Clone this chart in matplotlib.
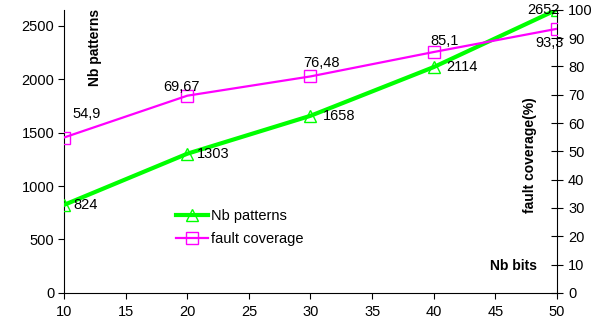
import numpy as np
import matplotlib
matplotlib.use('Agg')
import matplotlib.pyplot as plt

plt.rcParams['font.family'] = ['Liberation Sans', 'DejaVu Sans']
plt.rcParams['font.size'] = 10.5

nb_bits = [10, 20, 30, 40, 50]
nb_patterns = [824, 1303, 1658, 2114, 2652]
fault_cov = [54.9, 69.67, 76.48, 85.1, 93.3]

# label offsets in points (dx, dy)
pat_off = [(7, 0), (7, 0), (9, 0), (9, 0), (-10, 0)]
cov_off = [(6, 17), (-4, 6), (8, 10), (8, 8), (-5, -10)]
pat_ha = ['left', 'left', 'left', 'left', 'center']
cov_ha = ['left', 'center', 'center', 'center', 'center']

fig = plt.figure(figsize=(6.1, 3.28), dpi=100)
ax = fig.add_axes([0.105, 0.107, 0.808, 0.863])
ax2 = ax.twinx()

l1, = ax.plot(nb_bits, nb_patterns, color='#00FF00', lw=3, marker='^', ms=8,
              mfc='none', mec='#00FF00', mew=1, label='Nb patterns', zorder=3)
l2, = ax2.plot(nb_bits, fault_cov, color='#FF00FF', lw=1.6, marker='s', ms=9,
               mfc='none', mec='#FF00FF', mew=1, label='fault coverage', zorder=3)

for x, y, (dx, dy), ha in zip(nb_bits, nb_patterns, pat_off, pat_ha):
    ax.annotate(str(y), (x, y), xytext=(dx, dy), textcoords='offset points',
                ha=ha, va='center')
for x, y, (dx, dy), ha in zip(nb_bits, fault_cov, cov_off, cov_ha):
    ax2.annotate(f'{y:g}'.replace('.', ','), (x, y), xytext=(dx, dy),
                 textcoords='offset points', ha=ha, va='center')

ax.set_xlim(10, 50)
ax.set_ylim(0, 2650)
ax2.set_ylim(0, 100)
ax.set_xticks(np.arange(10, 51, 5))
ax.set_yticks(np.arange(0, 2501, 500))
ax2.set_yticks(np.arange(0, 101, 10))

for a in (ax, ax2):
    a.spines['top'].set_visible(False)
    for s in a.spines.values():
        s.set_linewidth(0.8)
ax.spines['right'].set_visible(False)
ax2.spines['left'].set_visible(False)
ax2.spines['bottom'].set_visible(False)
ax.tick_params(direction='out', length=4, width=0.8, pad=3)
ax.tick_params(axis='x', pad=5)
ax2.tick_params(direction='inout', length=8, width=0.8, pad=4)

ax.text(0.063, 0.866, 'Nb patterns', transform=ax.transAxes, rotation=90,
        ha='center', va='center', fontweight='bold', fontsize=10)
ax.text(0.945, 0.488, 'fault coverage(%)', transform=ax.transAxes, rotation=90,
        ha='center', va='center', fontweight='bold', fontsize=10)
ax.text(0.911, 0.095, 'Nb bits', transform=ax.transAxes,
        ha='center', va='center', fontweight='bold', fontsize=10)

ax2.legend([l1, l2], ['Nb patterns', 'fault coverage'], loc='center left',
           bbox_to_anchor=(0.2, 0.232), frameon=False, handlelength=2.2,
           handletextpad=0.2, labelspacing=0.6)

fig.savefig('out.png', dpi=100)
